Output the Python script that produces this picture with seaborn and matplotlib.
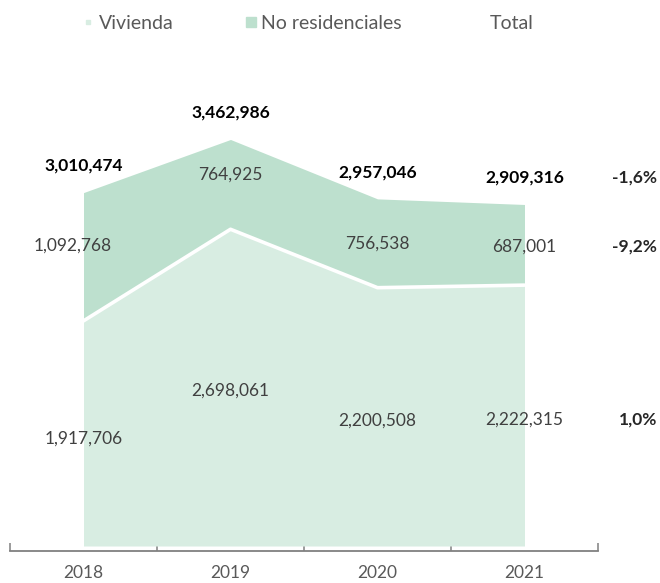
import numpy as np
import pandas as pd
import seaborn as sns
import matplotlib.pyplot as plt
from matplotlib.lines import Line2D

years = ['2018', '2019', '2020', '2021']
vivienda = [1917706, 2698061, 2200508, 2222315]
no_residenciales = [1092768, 764925, 756538, 687001]
total = [3010474, 3462986, 2957046, 2909316]
variaciones = ['-1,6%', '-9,2%', '1,0%']

C_VIV = '#d8ede2'
C_NORES = '#bde0ce'
TXT = '#404040'
FS = 12.5

sns.set_theme(style='white')
plt.rcParams['font.family'] = ['Lato', 'DejaVu Sans']

df = pd.DataFrame({'year': years, 'x': range(len(years)),
                   'Vivienda': vivienda, 'No residenciales': no_residenciales,
                   'Total': total})

fig = plt.figure(figsize=(6.6, 5.83), dpi=100)
ax = fig.add_axes([10 / 660, 32 / 583, 588 / 660, 491 / 583])

ax.stackplot(df['x'], df['Vivienda'], df['No residenciales'],
             colors=[C_VIV, C_NORES], linewidth=0)
sns.lineplot(data=df, x='x', y='Vivienda', color='white', lw=2.6, ax=ax)

ax.set_xlim(-0.5, 3.5)
ax.set_ylim(-42500, 4.14e6)
ax.set_xticks([-0.5, 0.5, 1.5, 2.5, 3.5])
ax.set_xticklabels([])
ax.set_yticks([])
ax.set_xlabel('')
ax.set_ylabel('')
for s in ['top', 'right', 'left']:
    ax.spines[s].set_visible(False)
ax.spines['bottom'].set_color('#808080')
ax.spines['bottom'].set_linewidth(1.3)
ax.tick_params(axis='x', direction='in', length=6, width=1.1, color='#808080', bottom=True)

# years under the axis
for i, y in enumerate(years):
    ax.annotate(y, (i, 0), xycoords=('data', 'axes fraction'), xytext=(0, -16),
                textcoords='offset points', ha='center', va='center',
                fontsize=FS, color='#595959', annotation_clip=False)

# small nudges (points) so labels sit where Excel put them
dx_nores = [-8, 0, 0, 0]
dy_nores = [8, 7, 0, -1.5]
dy_viv = [-3.5, -2, -3, -3]

for i in range(len(years)):
    ax.annotate(f'{vivienda[i]:,}', (i, vivienda[i] / 2), xytext=(0, dy_viv[i]),
                textcoords='offset points', ha='center', va='center',
                fontsize=FS, color=TXT)
    ax.annotate(f'{no_residenciales[i]:,}', (i, vivienda[i] + no_residenciales[i] / 2),
                xytext=(dx_nores[i], dy_nores[i]), textcoords='offset points',
                ha='center', va='center', fontsize=FS, color=TXT)
    ax.annotate(f'{total[i]:,}', (i, total[i]), xytext=(0, 13.5),
                textcoords='offset points', ha='center', va='bottom',
                fontsize=FS, fontweight='bold', color='black')

# variation column on the right
xr = 3.9
ax.annotate(variaciones[0], (xr, total[3]), xytext=(0, 13.5), textcoords='offset points',
            ha='right', va='bottom', fontsize=FS, fontweight='bold', annotation_clip=False)
ax.annotate(variaciones[1], (xr, vivienda[3] + no_residenciales[3] / 2), xytext=(0, -1.5),
            textcoords='offset points', ha='right', va='center', fontsize=FS,
            fontweight='bold', annotation_clip=False)
ax.annotate(variaciones[2], (xr, vivienda[3] / 2), xytext=(0, -3),
            textcoords='offset points', ha='right', va='center', fontsize=FS,
            fontweight='bold', annotation_clip=False)

handles = [Line2D([], [], marker='s', markersize=2.2, color=C_VIV, lw=0),
           Line2D([], [], marker='s', markersize=7.5, color=C_NORES, lw=0),
           Line2D([], [], color='white', lw=0)]
fig.legend(handles, ['Vivienda', 'No residenciales', 'Total'], loc='center',
           bbox_to_anchor=(0.466, 0.96), ncol=3, frameon=False, fontsize=14,
           labelcolor='#595959', handlelength=0.7, handletextpad=0.2, columnspacing=3.6)

fig.savefig('out.png', dpi=100)
